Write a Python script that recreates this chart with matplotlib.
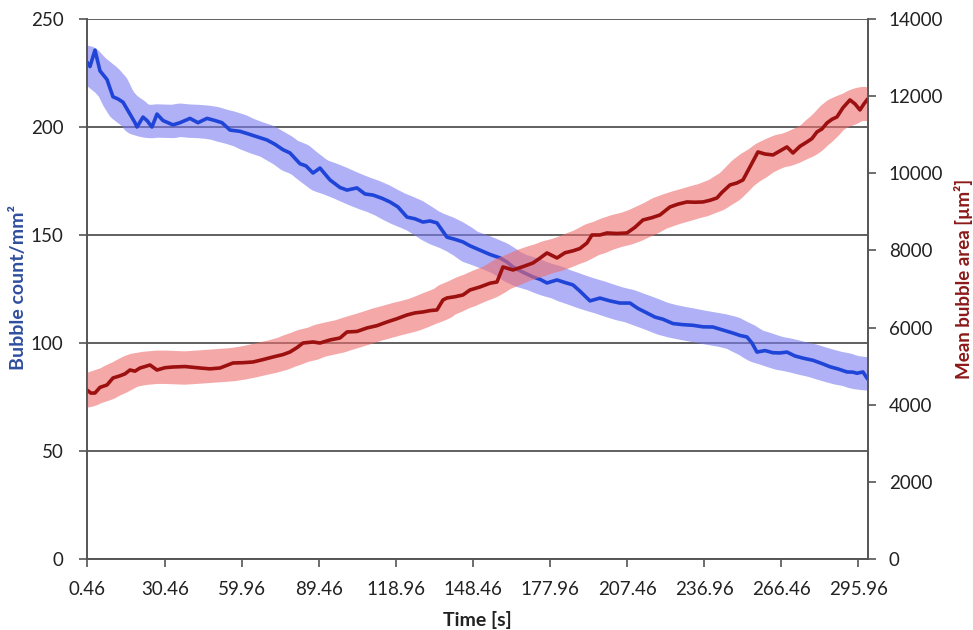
import numpy as np
import pandas as pd
import matplotlib
matplotlib.use('Agg')
import matplotlib.pyplot as plt

plt.rcParams['font.family'] = ['Lato', 'DejaVu Sans']

# Bubble count per mm2 (left axis)
countTime = [0.46, 1.61, 3.52, 5.44, 8.12, 10.42, 12.34, 14.25, 16.93, 18.85, 19.62, 21.91,
             23.45, 25.36, 27.28, 29.58, 33.41, 36.09, 39.92, 42.99, 46.43, 49.50, 52.18,
             55.25, 59.08, 61.76, 65.59, 69.42, 72.49, 75.55, 78.23, 82.06, 84.36, 87.05,
             89.73, 93.56, 97.39, 100.07, 103.90, 106.97, 110.03, 113.48, 116.55, 119.61,
             123.06, 126.12, 129.19, 131.87, 134.55, 138.38, 141.45, 144.51, 147.19, 151.03,
             154.86, 158.69, 161.37, 163.67, 167.12, 171.33, 174.01, 176.70, 180.53, 183.59,
             186.66, 189.34, 193.17, 197.00, 200.83, 204.66, 208.49, 211.56, 215.01, 218.07,
             221.14, 224.97, 228.80, 232.63, 236.46, 240.29, 244.12, 247.96, 250.64, 253.32,
             255.23, 257.15, 260.22, 263.28, 265.96, 268.64, 271.70, 274.77, 278.60, 282.05,
             285.12, 288.18, 291.63, 293.93, 295.46, 297.76, 299.29]
countVal = [230, 228, 235.6, 226, 222, 214, 213, 211.5, 206, 202, 200, 204.6,
            203, 200, 206, 203, 201, 202, 204, 202, 204, 203, 202,
            198.6, 198, 197, 195.5, 194, 192, 189.5, 188, 183, 182, 178.7,
            181, 175.5, 172, 170.8, 171.8, 169, 168.5, 167, 165.3, 163,
            158.3, 157.5, 156, 156.5, 155.6, 149, 148, 146.8, 145, 143,
            141, 139.4, 137.5, 135.2, 133, 130.6, 129.5, 127.8, 129.2, 128,
            126.9, 124, 119.5, 120.8, 119.5, 118.5, 118.5, 116, 113.9, 112,
            111, 109, 108.5, 108.2, 107.5, 107.4, 106, 104.6, 103.5, 102.8,
            100, 95.8, 96.5, 95.5, 95.4, 95.8, 94, 93, 92, 90.5,
            89, 88, 86.6, 86.5, 86, 86.6, 83.8]

# Mean bubble area in um2 (right axis)
areaTime = [0.46, 1.99, 3.52, 5.44, 8.12, 10.42, 13.10, 15.02, 16.93, 18.85, 20.77, 22.68,
            24.60, 27.28, 30.34, 33.41, 38.01, 43.75, 47.58, 51.41, 56.40, 60.23, 64.06,
            67.89, 71.72, 75.55, 78.23, 80.91, 83.21, 87.05, 89.73, 93.56, 97.39, 100.07,
            103.90, 107.73, 111.56, 115.40, 119.23, 123.06, 126.12, 129.19, 131.87, 134.55,
            136.85, 138.38, 141.45, 144.51, 147.19, 151.03, 154.86, 157.54, 159.84, 163.67,
            167.50, 171.33, 174.01, 176.70, 180.53, 183.59, 186.66, 189.34, 192.02, 193.94,
            197.00, 199.68, 203.51, 207.34, 210.41, 213.47, 216.92, 219.99, 223.82, 226.88,
            230.33, 233.40, 236.46, 239.14, 241.83, 243.66, 246.81, 249.49, 251.79, 254.47,
            257.53, 260.22, 263.28, 265.96, 268.64, 270.94, 273.62, 276.31, 278.22, 280.14,
            282.05, 283.97, 285.88, 287.80, 290.10, 292.78, 294.70, 296.61, 298.14, 299.29]
areaVal = [4380, 4300, 4304, 4450, 4512, 4693, 4750, 4800, 4900, 4870, 4952, 4990,
           5030, 4900, 4960, 4978, 4990, 4952, 4930, 4952, 5082, 5090, 5108,
           5170, 5238, 5300, 5367, 5480, 5600, 5627, 5600, 5679, 5730, 5886,
           5900, 5990, 6050, 6145, 6230, 6327, 6380, 6405, 6440, 6457,
           6716, 6768, 6800, 6846, 6975, 7053, 7150, 7183, 7572, 7494,
           7580, 7675, 7800, 7935, 7805, 7940, 7990, 8050, 8194, 8401,
           8401, 8453, 8440, 8453, 8600, 8790, 8850, 8920, 9127, 9200,
           9257, 9250, 9257, 9300, 9361, 9500, 9698, 9750, 9828, 10165,
           10554, 10500, 10476, 10580, 10684, 10527, 10700, 10813, 10900, 11072,
           11150, 11305, 11400, 11461, 11700, 11902, 11800, 11643, 11800, 11902]

xticks = [0.46, 30.46, 59.96, 89.46, 118.96, 148.46, 177.96, 207.46, 236.96, 266.46, 295.96]
leftTicks = [0, 50, 100, 150, 200, 250]
rightTicks = [0, 2000, 4000, 6000, 8000, 10000, 12000, 14000]

# smoothed copies for the shaded bands
countBand = pd.Series(countVal).rolling(7, center=True, min_periods=1).mean()
areaBand = pd.Series(areaVal).rolling(7, center=True, min_periods=1).mean()

fig = plt.figure(figsize=(9.73, 6.3), dpi=100)
ax = fig.add_axes([0.0894, 0.1127, 0.8027, 0.8571])
ax2 = ax.twinx()

ax.plot(countTime, countBand, color='#7c7cf0', alpha=0.6, lw=24, solid_capstyle='round',
        solid_joinstyle='round')
ax.plot(countTime, countVal, color='#1f45d8', lw=2.6)
ax2.plot(areaTime, areaBand, color='#ee6e6e', alpha=0.6, lw=24, solid_capstyle='round',
         solid_joinstyle='round')
ax2.plot(areaTime, areaVal, color='#9c1010', lw=2.6)

ax.set_xlim(0.46, 299.7)
ax.set_ylim(0, 250)
ax2.set_ylim(0, 14000)
ax.set_xticks(xticks)
ax.set_xticklabels(['%.2f' % t for t in xticks])
ax.set_yticks(leftTicks)
ax2.set_yticks(rightTicks)

ax.yaxis.grid(True, color='#444444', lw=1.2)
ax.set_axisbelow(True)

for a in (ax, ax2):
    a.spines['top'].set_visible(False)
    for s in a.spines.values():
        s.set_color('#555555')
        s.set_linewidth(1.2)
    a.tick_params(colors='#555555', labelcolor='#222222', labelsize=13.5, length=6, width=1.2)

ax.tick_params(axis='x', pad=10)
ax.tick_params(axis='y', pad=11)
ax2.tick_params(axis='y', pad=9)

ax.set_xlabel('Time [s]', fontsize=14, fontweight='bold', color='#222222', labelpad=9)
ax.set_ylabel('Bubble count/mm²', fontsize=14, fontweight='bold', color='#2f4f9f', va='center')
ax2.set_ylabel('Mean bubble area [µm²]', fontsize=13.5, fontweight='bold', color='#8b1a1a',
               va='center')
ax.yaxis.set_label_coords(-0.088, 0.502)
ax2.yaxis.set_label_coords(1.122, 0.519)

fig.savefig('out.png', dpi=100)
